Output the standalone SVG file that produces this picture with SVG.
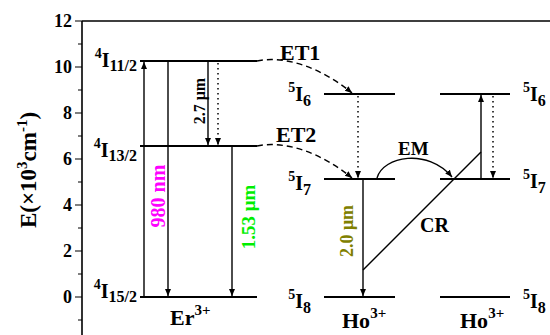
<svg xmlns="http://www.w3.org/2000/svg" width="550" height="335" viewBox="0 0 550 335">
<defs>
<marker id="ah" markerUnits="userSpaceOnUse" markerWidth="8" markerHeight="7" refX="7" refY="3" orient="auto">
<path d="M0,0 L7,3 L0,6 z" fill="#000"/>
</marker>
<style>
text{font-family:"Liberation Serif","Times New Roman",serif;font-weight:bold;fill:#000}
.tick{font-size:18px;text-anchor:end}
.lvl{stroke:#000;stroke-width:2}
.ar{stroke:#000;stroke-width:1.4;fill:none;marker-end:url(#ah)}
.dot{stroke:#000;stroke-width:1.5;stroke-dasharray:1.5 3.5;fill:none;marker-end:url(#ah)}
.dash{stroke:#000;stroke-width:1.4;stroke-dasharray:6 4;fill:none;marker-end:url(#ah)}
.ln{stroke:#000;stroke-width:1.4;fill:none}
.big{font-size:20px}
.sp{font-size:14px}
.sb{font-size:16px}
</style>
</defs>
<rect width="550" height="335" fill="#fff"/>
<g id="axis">
<path d="M82,21 V335 M82,21 H550" stroke="#000" stroke-width="1.6" fill="none"/>
<path d="M75,21 H82 M75,67 H82 M75,113 H82 M75,159 H82 M75,205 H82 M75,251 H82 M75,297 H82 M78,44 H82 M78,90 H82 M78,136 H82 M78,182 H82 M78,228 H82 M78,274 H82 M78,320 H82" stroke="#000" stroke-width="1.2"/>
<text class="tick" x="72" y="27">12</text>
<text class="tick" x="72" y="73">10</text>
<text class="tick" x="72" y="119">8</text>
<text class="tick" x="72" y="165">6</text>
<text class="tick" x="72" y="211">4</text>
<text class="tick" x="72" y="257">2</text>
<text class="tick" x="72" y="303">0</text>
<text transform="translate(36,170) rotate(-90)" text-anchor="middle" font-size="23">E(×10<tspan font-size="15" dy="-9">3</tspan><tspan dy="9">cm</tspan><tspan font-size="15" dy="-9">-1</tspan><tspan dy="9">)</tspan></text>
</g>
<g id="er">
<path class="lvl" d="M140,61 H257 M140,146 H257 M140,297 H257"/>
<text x="137" y="67" text-anchor="end" class="big"><tspan class="sp" dy="-9">4</tspan><tspan dy="9">I</tspan><tspan class="sb" dy="4">11/2</tspan></text>
<text x="137" y="157" text-anchor="end" class="big"><tspan class="sp" dy="-9">4</tspan><tspan dy="9">I</tspan><tspan class="sb" dy="4">13/2</tspan></text>
<text x="137" y="298" text-anchor="end" class="big"><tspan class="sp" dy="-9">4</tspan><tspan dy="9">I</tspan><tspan class="sb" dy="4">15/2</tspan></text>
<text x="170" y="325" font-size="22">Er<tspan font-size="15" dy="-10">3+</tspan></text>
</g>
<g id="ho1">
<path class="lvl" d="M324,94 H395 M324,179 H395 M324,297 H395"/>
<text x="311" y="101" text-anchor="end" class="big"><tspan class="sp" dy="-9">5</tspan><tspan dy="9">I</tspan><tspan class="sb" dy="5">6</tspan></text>
<text x="311" y="190" text-anchor="end" class="big"><tspan class="sp" dy="-9">5</tspan><tspan dy="9">I</tspan><tspan class="sb" dy="5">7</tspan></text>
<text x="311" y="308" text-anchor="end" class="big"><tspan class="sp" dy="-9">5</tspan><tspan dy="9">I</tspan><tspan class="sb" dy="5">8</tspan></text>
<text x="342" y="328" font-size="22">Ho<tspan font-size="15" dy="-10">3+</tspan></text>
</g>
<g id="ho2">
<path class="lvl" d="M440,94 H510 M440,179 H510 M440,297 H510"/>
<text x="523" y="101" class="big"><tspan class="sp" dy="-9">5</tspan><tspan dy="9">I</tspan><tspan class="sb" dy="5">6</tspan></text>
<text x="523" y="188" class="big"><tspan class="sp" dy="-9">5</tspan><tspan dy="9">I</tspan><tspan class="sb" dy="5">7</tspan></text>
<text x="523" y="308" class="big"><tspan class="sp" dy="-9">5</tspan><tspan dy="9">I</tspan><tspan class="sb" dy="5">8</tspan></text>
<text x="460" y="328" font-size="22">Ho<tspan font-size="15" dy="-10">3+</tspan></text>
</g>
<g id="connectors">
<path class="ar" d="M144,297 V62"/>
<path class="ar" d="M168,61 V296"/>
<path class="ar" d="M208,61 V145"/>
<path class="dot" d="M218,63 V145"/>
<path class="ar" d="M232,146 V296"/>
<path class="dash" d="M257,61 C285,55 322,68 352,93"/>
<path class="dash" d="M257,146 C285,140 322,153 352,178"/>
<path class="dot" d="M358,96 V178"/>
<path class="ar" d="M363,179 V296"/>
<path class="ln" d="M363,270 L481,152"/>
<path class="ar" d="M481,179 V95"/>
<path class="dot" d="M493,96 V178"/>
<path class="ar" d="M377,178 C383,156 428,148 452,177"/>
</g>
<g id="labels">
<text transform="translate(165,196) rotate(-90)" text-anchor="middle" font-size="20" style="fill:#ff00ff">980 nm</text>
<text transform="translate(255,217) rotate(-90)" text-anchor="middle" font-size="19" style="fill:#00ee00">1.53 μm</text>
<text transform="translate(205,101) rotate(-90)" text-anchor="middle" font-size="16">2.7 μm</text>
<text transform="translate(353,231) rotate(-90)" text-anchor="middle" font-size="18" style="fill:#808000">2.0 μm</text>
<text x="280" y="60" font-size="22">ET1</text>
<text x="276" y="142" font-size="22">ET2</text>
<text x="398" y="155" font-size="19">EM</text>
<text x="420" y="232" font-size="20">CR</text>
</g>
</svg>
